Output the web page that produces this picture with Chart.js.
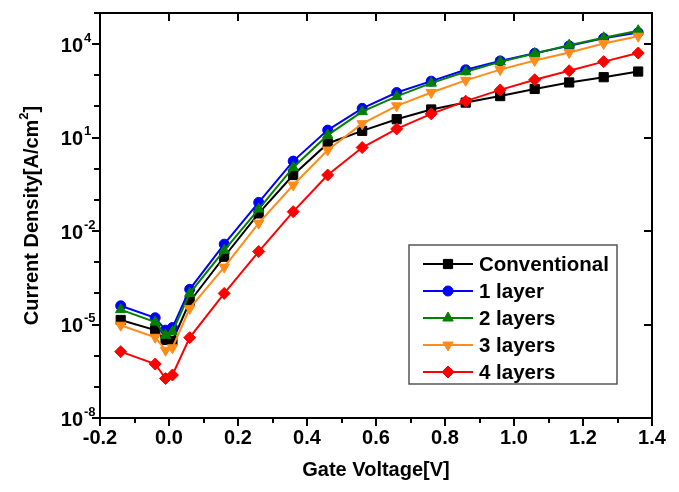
<!DOCTYPE html>
<html>
<head>
<meta charset="utf-8">
<script src="https://cdn.jsdelivr.net/npm/chart.js@4"></script>
<style>
  body { margin: 0; background: #fff; }
</style>
</head>
<body>
<canvas id="ivChart" width="679" height="492"></canvas>
<script>
// gate voltage sweep [V]
const gateVoltage = [-0.14, -0.04, -0.01, 0.01, 0.06, 0.16, 0.26, 0.36, 0.46, 0.56, 0.66, 0.76, 0.86, 0.96, 1.06, 1.16, 1.26, 1.36];
// current density [A/cm2]
const conventional = [1.4e-5, 6.6e-6, 3.2e-6, 3e-6, 5.4e-5, 1.5e-3, 0.037, 0.63, 6.5, 16.5, 39, 80, 133, 215, 365, 590, 870, 1320];
const oneLayer = [4e-5, 1.65e-5, 6.6e-6, 8e-6, 1.35e-4, 3.8e-3, 0.083, 1.76, 17.4, 87, 280, 650, 1500, 2900, 5100, 8800, 15500, 23500];
const twoLayers = [3e-5, 1.2e-5, 4.5e-6, 5.9e-6, 1e-4, 2.4e-3, 0.051, 1.1, 12, 68, 210, 560, 1300, 2700, 5000, 9300, 16000, 27000];
const threeLayers = [9.5e-6, 3.9e-6, 1.5e-6, 1.8e-6, 3.3e-5, 7e-4, 0.018, 0.30, 4, 28, 105, 280, 690, 1520, 3000, 5400, 10500, 18000];
const fourLayers = [1.35e-6, 5.4e-7, 1.85e-7, 2.4e-7, 3.8e-6, 1e-4, 2.2e-3, 0.042, 0.63, 4.8, 19, 58, 148, 340, 720, 1400, 2750, 5200];

const seriesNames = ['Conventional', '1 layer', '2 layers', '3 layers', '4 layers'];
const xTickLabels = ['-0.2', '0.0', '0.2', '0.4', '0.6', '0.8', '1.0', '1.2', '1.4'];
const yTickExponents = [-8, -5, -2, 1, 4];

const FONT = '"Liberation Sans", Arial, sans-serif';

const styles = [
  { color: '#000000', pointStyle: 'rect', radius: 6.5, rotation: 0 },
  { color: '#0000ff', pointStyle: 'circle', radius: 5, rotation: 0 },
  { color: '#008000', pointStyle: 'triangle', radius: 6, rotation: 0 },
  { color: '#ff8c1a', pointStyle: 'triangle', radius: 6, rotation: 180 },
  { color: '#ff0000', pointStyle: 'rectRot', radius: 6, rotation: 0 }
];

function toPoints(values) {
  return gateVoltage.map((v, i) => ({ x: v, y: values[i] }));
}

const allSeries = [conventional, oneLayer, twoLayers, threeLayers, fourLayers];

const datasets = allSeries.map((vals, i) => ({
  label: seriesNames[i],
  data: toPoints(vals),
  borderColor: styles[i].color,
  backgroundColor: styles[i].color,
  borderWidth: 2,
  pointStyle: styles[i].pointStyle,
  pointRadius: styles[i].radius,
  pointRotation: styles[i].rotation,
  pointBackgroundColor: styles[i].color,
  pointBorderColor: styles[i].color,
  pointBorderWidth: 1,
  tension: 0,
  order: 4 - i   // later series sit on top
}));

// frame, ticks, labels and legend drawn by hand (Origin style)
const framePlugin = {
  id: 'framePlugin',
  afterDraw(chart) {
    const ctx = chart.ctx;
    const xs = chart.scales.x, ys = chart.scales.y;
    const a = chart.chartArea;
    ctx.save();
    ctx.strokeStyle = '#000';
    ctx.fillStyle = '#000';
    ctx.lineWidth = 2;
    ctx.strokeRect(a.left, a.top, a.right - a.left, a.bottom - a.top);

    // x ticks
    for (let k = 0; k <= 16; k++) {
      const v = -0.2 + k * 0.1;
      const px = Math.round(xs.getPixelForValue(v));
      const major = k % 2 === 0;
      ctx.beginPath();
      ctx.moveTo(px, a.bottom);
      ctx.lineTo(px, a.bottom + (major ? 8 : 5));
      if (major) {
        ctx.moveTo(px, a.top);
        ctx.lineTo(px, a.top + 8);
      }
      ctx.stroke();
    }
    ctx.font = 'bold 20px ' + FONT;
    ctx.textAlign = 'center';
    ctx.textBaseline = 'middle';
    xTickLabels.forEach((t) => {
      ctx.fillText(t, xs.getPixelForValue(parseFloat(t)), a.bottom + 20);
    });

    // y ticks
    for (let e = -8; e <= 5; e++) {
      const py = Math.round(ys.getPixelForValue(Math.pow(10, e)));
      const major = yTickExponents.includes(e);
      ctx.beginPath();
      ctx.moveTo(a.left, py);
      ctx.lineTo(a.left - (major ? 8 : 6), py);
      if (major) {
        ctx.moveTo(a.right, py);
        ctx.lineTo(a.right - 8, py);
      }
      ctx.stroke();
    }
    yTickExponents.forEach((e) => {
      const py = ys.getPixelForValue(Math.pow(10, e));
      ctx.font = 'bold 20px ' + FONT;
      ctx.textAlign = 'right';
      ctx.textBaseline = 'middle';
      ctx.fillText('10', a.left - 17, py + 2);
      ctx.font = 'bold 13px ' + FONT;
      ctx.textAlign = 'left';
      ctx.fillText(String(e), a.left - 16, py - 6);
    });

    // axis titles
    ctx.font = 'bold 20px ' + FONT;
    ctx.textAlign = 'center';
    ctx.textBaseline = 'middle';
    ctx.fillText('Gate Voltage[V]', (a.left + a.right) / 2, 470);

    ctx.save();
    ctx.translate(32, (a.top + a.bottom) / 2);
    ctx.rotate(-Math.PI / 2);
    const main = 'Current Density[A/cm';
    ctx.font = 'bold 20px ' + FONT;
    const w1 = ctx.measureText(main).width;
    ctx.font = 'bold 13px ' + FONT;
    const w2 = ctx.measureText('2').width;
    ctx.font = 'bold 20px ' + FONT;
    const w3 = ctx.measureText(']').width;
    const start = -(w1 + w2 + w3) / 2;
    ctx.textAlign = 'left';
    ctx.fillText(main, start, 0);
    ctx.font = 'bold 13px ' + FONT;
    ctx.fillText('2', start + w1, -8);
    ctx.font = 'bold 20px ' + FONT;
    ctx.fillText(']', start + w1 + w2, 0);
    ctx.restore();

    // legend
    const lx = 409, ly = 245, lw = 208, lh = 139;
    ctx.fillStyle = '#fff';
    ctx.fillRect(lx, ly, lw, lh);
    ctx.strokeStyle = '#555';
    ctx.lineWidth = 1.5;
    ctx.strokeRect(lx, ly, lw, lh);
    seriesNames.forEach((name, i) => {
      const y = ly + 19 + i * 27;
      const s = styles[i];
      ctx.strokeStyle = s.color;
      ctx.fillStyle = s.color;
      ctx.lineWidth = 2;
      ctx.beginPath();
      ctx.moveTo(lx + 14, y);
      ctx.lineTo(lx + 64, y);
      ctx.stroke();
      ctx.lineWidth = 1;
      Chart.helpers.drawPoint(ctx, {
        pointStyle: s.pointStyle, radius: s.radius, rotation: s.rotation, borderWidth: 1
      }, lx + 39, y);
      ctx.fillStyle = '#000';
      ctx.font = 'bold 20.5px ' + FONT;
      ctx.textAlign = 'left';
      ctx.textBaseline = 'middle';
      ctx.fillText(name, lx + 70, y + 1);
    });
    ctx.restore();
  }
};

const ctx = document.getElementById('ivChart').getContext('2d');
new Chart(ctx, {
  type: 'line',
  data: { datasets: datasets },
  options: {
    responsive: false,
    animation: false,
    devicePixelRatio: 1,
    layout: { padding: { left: 0, top: 13, right: 27, bottom: 0 } },
    plugins: {
      legend: { display: false },
      title: { display: false },
      tooltip: { enabled: false }
    },
    scales: {
      x: {
        type: 'linear',
        min: -0.2,
        max: 1.4,
        grid: { display: false },
        border: { display: false },
        ticks: { display: false },
        afterFit: (s) => { s.height = 74; }
      },
      y: {
        type: 'logarithmic',
        min: 1e-8,
        max: 1e5,
        grid: { display: false },
        border: { display: false },
        ticks: { display: false },
        afterFit: (s) => { s.width = 100; }
      }
    }
  },
  plugins: [framePlugin]
});
</script>
</body>
</html>
